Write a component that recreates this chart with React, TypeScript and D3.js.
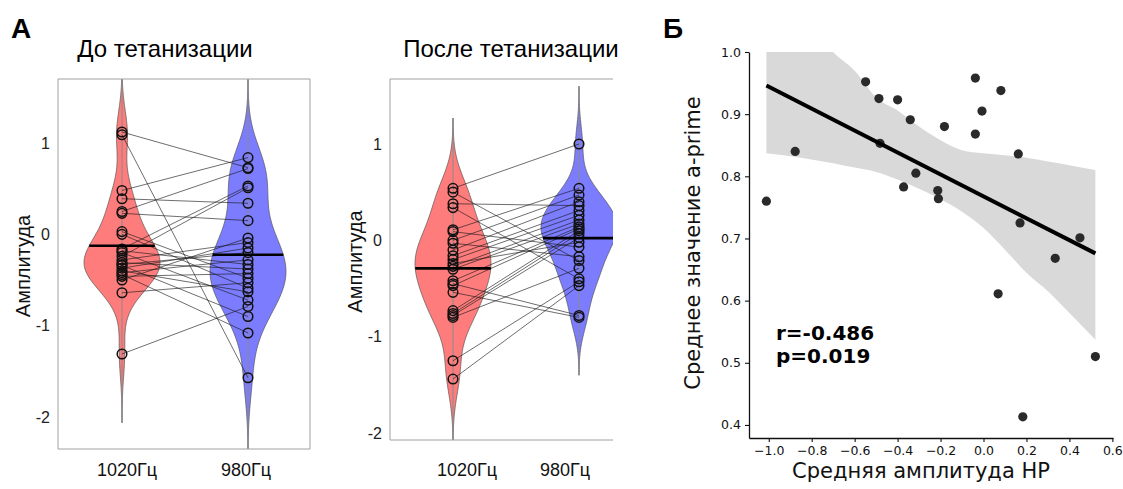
import React, { useEffect, useRef } from "react";
import * as d3 from "d3";

// panel A: paired amplitudes per subject, 1020 Hz vs 980 Hz
const groups = ["1020Гц", "980Гц"];
const ampTicks = [1, 0, -1, -2];

const pre1020 = [1.12, 1.09, 0.48, 0.39, 0.25, 0.23, 0.03, 0.0, -0.16, -0.18, -0.2, -0.24, -0.28, -0.31, -0.33, -0.34, -0.37, -0.4, -0.42, -0.44, -0.46, -0.5, -0.64, -1.31];
const pre980 = [0.73, -1.57, 0.84, 0.34, 0.72, 0.15, -0.48, -0.59, 0.53, -0.33, -0.72, 0.51, -0.09, -0.38, -0.2, -0.9, -0.15, -0.63, -0.28, -1.08, -0.43, -0.04, -0.53, -0.79];

const post1020 = [0.54, 0.5, 0.38, 0.34, 0.11, 0.09, 0.0, -0.03, -0.1, -0.16, -0.2, -0.24, -0.27, -0.3, -0.42, -0.45, -0.47, -0.54, -0.73, -0.76, -0.78, -0.8, -1.25, -1.44];
const post980 = [1.0, -0.21, 0.36, -0.4, 0.54, -0.07, 0.47, -0.17, 0.4, 0.31, 0.26, -0.02, 0.21, 0.17, 0.14, -0.78, 0.12, -0.8, 0.1, 0.07, 0.03, -0.29, -0.43, -0.47];

// panel Б: mean HP amplitude vs mean a-prime
const hpAmp = [-1.011, -0.877, -0.549, -0.487, -0.482, -0.4, -0.341, -0.372, -0.315, -0.213, -0.21, -0.182, -0.038, -0.038, -0.007, 0.081, 0.068, 0.162, 0.17, 0.183, 0.334, 0.449, 0.521];
const aPrime = [0.76, 0.84, 0.952, 0.925, 0.853, 0.923, 0.891, 0.783, 0.805, 0.777, 0.764, 0.88, 0.958, 0.868, 0.905, 0.938, 0.611, 0.836, 0.725, 0.413, 0.668, 0.701, 0.51];

// bootstrap CI band
const ciX = [-1.011, -0.85, -0.7, -0.6, -0.5, -0.4, -0.3, -0.2, -0.1, 0.0, 0.1, 0.2, 0.3, 0.4, 0.521];
const ciUpper = [1.12, 1.07, 1.0, 0.97, 0.927, 0.906, 0.88, 0.858, 0.842, 0.837, 0.834, 0.83, 0.824, 0.818, 0.81];
const ciLower = [0.837, 0.83, 0.821, 0.814, 0.807, 0.795, 0.78, 0.763, 0.743, 0.717, 0.682, 0.645, 0.615, 0.58, 0.537];

const xTicksB = [-1.0, -0.8, -0.6, -0.4, -0.2, 0.0, 0.2, 0.4, 0.6];
const yTicksB = [0.4, 0.5, 0.6, 0.7, 0.8, 0.9, 1.0];

const RED = "#ff7c7c";
const BLUE = "#7c7cff";
const ARIAL = "'Liberation Sans', Arial, sans-serif";
const DEJAVU = "'DejaVu Sans', sans-serif";

// rule-of-thumb bandwidth from the sd
function bandwidth(vals: number[]) {
  const sd = d3.deviation(vals) || 1;
  return 0.9 * sd * Math.pow(vals.length, -0.2);
}

function density(vals: number[], bw: number) {
  return (t: number) => d3.mean(vals, v => Math.exp(-0.5 * ((t - v) / bw) ** 2))! / (bw * Math.sqrt(2 * Math.PI));
}

function Violin({ values, cx, y, color, halfW }: any) {
  const bw = bandwidth(values);
  const lo = d3.min(values)! - 3 * bw;
  const hi = d3.max(values)! + 3 * bw;
  const f = density(values, bw);
  const grid = d3.range(0, 201).map(i => lo + (hi - lo) * i / 200);
  const dens = grid.map(t => ({ t, d: f(t) }));
  const w = d3.scaleLinear().domain([0, d3.max(dens, d => d.d)!]).range([0, halfW]);
  const area = d3.area<{ t: number; d: number }>()
    .y(d => y(d.t))
    .x0(d => cx - w(d.d))
    .x1(d => cx + w(d.d))
    .curve(d3.curveBasis);
  return (
    <g>
      <path d={area(dens)!} fill={color} stroke="#555" strokeWidth={0.7} />
      <line x1={cx} x2={cx} y1={y(hi)} y2={y(lo)} stroke="#8a8a8a" strokeWidth={1} />
    </g>
  );
}

function MeanBar({ values, cx, y, halfW }: any) {
  const bw = bandwidth(values);
  const f = density(values, bw);
  const lo = d3.min(values)! - 3 * bw;
  const hi = d3.max(values)! + 3 * bw;
  const maxD = d3.max(d3.range(0, 201), i => f(lo + (hi - lo) * i / 200))!;
  const m = d3.mean(values)!;
  const hw = halfW * f(m) / maxD;
  return <line x1={cx - hw} x2={cx + hw} y1={y(m)} y2={y(m)} stroke="#000" strokeWidth={2.6} />;
}

function ViolinPanel({ id, title, titleX, a, b, left, right, top, bottom, y0, y1, xs, labelXs, ylabX, tickX, rightBorder }: any) {
  const y = d3.scaleLinear().domain([-2, 1]).range([y0, y1]);
  const x = d3.scalePoint<string>().domain(groups).range(xs);
  const cxA = x(groups[0])!;
  const cxB = x(groups[1])!;
  const halfW = 38;
  return (
    <g>
      <defs>
        <clipPath id={id}>
          <rect x={left} y={top} width={right - left} height={bottom - top} />
        </clipPath>
      </defs>
      <text x={titleX} y={57} textAnchor="middle" fontFamily={ARIAL} fontSize={24}>{title}</text>
      <g clipPath={`url(#${id})`}>
        <Violin values={a} cx={cxA} y={y} color={RED} halfW={halfW} />
        <Violin values={b} cx={cxB} y={y} color={BLUE} halfW={halfW} />
        {a.map((v: number, i: number) => (
          <line key={i} x1={cxA} x2={cxB} y1={y(v)} y2={y(b[i])} stroke="#1a1a1a" strokeOpacity={0.8} strokeWidth={0.8} />
        ))}
        {a.map((v: number, i: number) => (
          <circle key={"a" + i} cx={cxA} cy={y(v)} r={4.8} fill="none" stroke="#111" strokeWidth={1.5} />
        ))}
        {b.map((v: number, i: number) => (
          <circle key={"b" + i} cx={cxB} cy={y(v)} r={4.8} fill="none" stroke="#111" strokeWidth={1.5} />
        ))}
        <MeanBar values={a} cx={cxA} y={y} halfW={halfW} />
        <MeanBar values={b} cx={cxB} y={y} halfW={halfW} />
      </g>
      <path
        d={rightBorder
          ? `M${left},${top}H${right}V${bottom}H${left}Z`
          : `M${right},${top}H${left}V${bottom}H${right}`}
        fill="none" stroke="#a0a0a0" strokeWidth={1}
      />
      {ampTicks.map(t => (
        <text key={t} x={tickX} y={y(t)} dy="0.35em" textAnchor="end" fontFamily={ARIAL} fontSize={16} fill="#222">{t}</text>
      ))}
      <text transform={`translate(${ylabX},${(top + bottom) / 2 + 2}) rotate(-90)`} textAnchor="middle" fontFamily={ARIAL} fontSize={20} fill="#111">Амплитуда</text>
      {groups.map((g, i) => (
        <text key={g} x={labelXs[i]} y={476} textAnchor="middle" fontFamily={ARIAL} fontSize={18} fill="#111">{g}</text>
      ))}
    </g>
  );
}

function ScatterPanel() {
  const xAxisRef = useRef<SVGGElement>(null);
  const yAxisRef = useRef<SVGGElement>(null);
  const x = d3.scaleLinear().domain([-1.092, 0.603]).range([749, 1113]);
  const y = d3.scaleLinear().domain([0.379, 1.0]).range([438, 52]);

  useEffect(() => {
    const fmt = d3.format(".1f");
    const xa = d3.select(xAxisRef.current!);
    xa.selectAll("*").remove();
    xa.call(d3.axisBottom(x).tickValues(xTicksB).tickSize(4).tickPadding(4).tickSizeOuter(0).tickFormat(d => fmt(d as number)));
    const ya = d3.select(yAxisRef.current!);
    ya.selectAll("*").remove();
    ya.call(d3.axisLeft(y).tickValues(yTicksB).tickSize(4).tickPadding(4).tickSizeOuter(0).tickFormat(d => fmt(d as number)));
    [xa, ya].forEach(a => {
      a.attr("font-family", DEJAVU).attr("font-size", 12.5);
      a.selectAll("text").attr("fill", "#111");
      a.selectAll("line").attr("stroke", "#111").attr("stroke-width", 1.1);
      a.select(".domain").attr("stroke", "#111").attr("stroke-width", 1.3);
    });
  }, []);

  const pts = hpAmp.map((v, i) => ({ x: v, y: aPrime[i] }));
  const mx = d3.mean(hpAmp)!;
  const my = d3.mean(aPrime)!;
  const slope = d3.sum(pts, p => (p.x - mx) * (p.y - my)) / d3.sum(pts, p => (p.x - mx) ** 2);
  const [x0, x1] = d3.extent(hpAmp) as [number, number];
  const ci = ciX.map((v, i) => ({ x: v, lo: ciLower[i], hi: ciUpper[i] }));
  const band = d3.area<{ x: number; lo: number; hi: number }>()
    .x(d => x(d.x)).y0(d => y(d.lo)).y1(d => y(d.hi)).curve(d3.curveMonotoneX);

  return (
    <g>
      <defs>
        <clipPath id="clipB">
          <rect x={749} y={52} width={364} height={386} />
        </clipPath>
      </defs>
      <path d={band(ci)!} fill="#d9d9d9" clipPath="url(#clipB)" />
      {pts.map((p, i) => (
        <circle key={i} cx={x(p.x)} cy={y(p.y)} r={4.6} fill="#2a2a2a" />
      ))}
      <line x1={x(x0)} x2={x(x1)} y1={y(my + slope * (x0 - mx))} y2={y(my + slope * (x1 - mx))} stroke="#000" strokeWidth={4} />
      <g ref={yAxisRef} transform="translate(749,0)" />
      <g ref={xAxisRef} transform="translate(0,438)" />
      <text x={776} y={340} fontFamily={DEJAVU} fontWeight="bold" fontSize={20}>r=-0.486</text>
      <text x={776} y={363} fontFamily={DEJAVU} fontWeight="bold" fontSize={20}>p=0.019</text>
      <text x={921} y={478} textAnchor="middle" fontFamily={DEJAVU} fontSize={21} fill="#111">Средняя амплитуда HP</text>
      <text transform="translate(700,243) rotate(-90)" textAnchor="middle" fontFamily={DEJAVU} fontSize={21} fill="#111">Среднее значение a-prime</text>
    </g>
  );
}

export default function App() {
  return (
    <svg width={1123} height={489} style={{ position: "absolute", left: 0, top: 0, background: "#fff" }}>
      <text x={11} y={38} fontFamily={ARIAL} fontWeight="bold" fontSize={28}>А</text>
      <text x={663} y={38} fontFamily={ARIAL} fontWeight="bold" fontSize={28}>Б</text>
      <ViolinPanel id="c1" title="До тетанизации" titleX={165} a={pre1020} b={pre980}
        left={58} right={310} top={79} bottom={449} y0={417} y1={143}
        xs={[122, 248]} labelXs={[127, 246]} ylabX={30} tickX={50} rightBorder />
      <ViolinPanel id="c2" title="После тетанизации" titleX={511} a={post1020} b={post980}
        left={390} right={613} top={79} bottom={440} y0={433} y1={144}
        xs={[453, 579]} labelXs={[467, 565]} ylabX={362} tickX={382} rightBorder={false} />
      <ScatterPanel />
    </svg>
  );
}
